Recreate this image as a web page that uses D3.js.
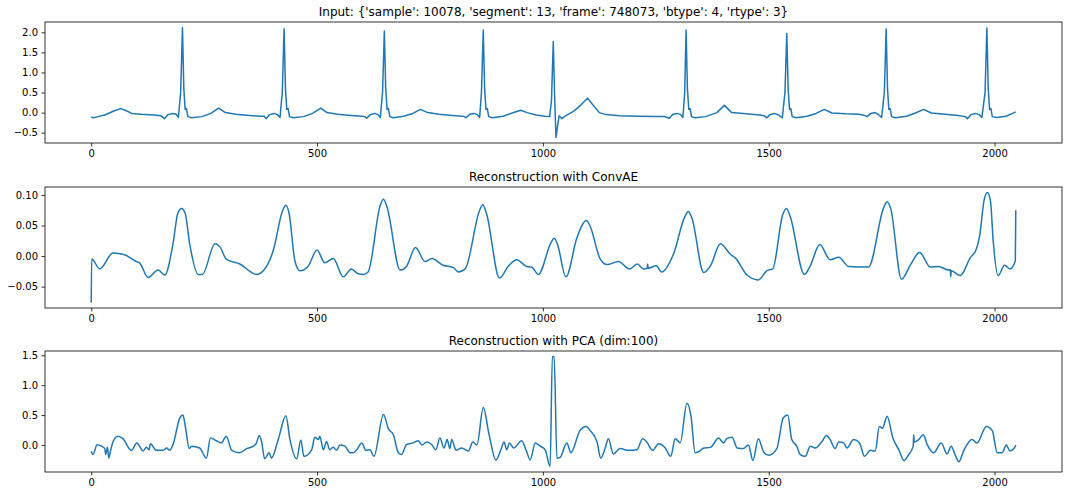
<!DOCTYPE html>
<html>
<head>
<meta charset="utf-8">
<script src="https://cdn.jsdelivr.net/npm/d3@7"></script>
<style>
    body { margin: 0; background: #fff; }
    svg { display: block; font-family: "DejaVu Sans", sans-serif; }
</style>
</head>
<body>
<div id="chart"></div>
<script>
//Colores fijos
const COLOR_LINE = '#1f77b4';

//Titulos y ticks
const titulos = [
    "Input: {'sample': 10078, 'segment': 13, 'frame': 748073, 'btype': 4, 'rtype': 3}",
    "Reconstruction with ConvAE",
    "Reconstruction with PCA (dim:100)"
];
const xTicks = [0, 500, 1000, 1500, 2000];
const yTicksInput = [-0.5, 0, 0.5, 1, 1.5, 2];
const yTicksConv = [-0.05, 0, 0.05, 0.1];
const yTicksPca = [0, 0.5, 1, 1.5];
const nMuestras = 2048;

//Senal de entrada [muestra, valor]
const serieInput = [
    [0,-0.11],[5,-0.13],[15,-0.1],[30,-0.06],[50,0.04],[65,0.1],[75,0.06],[90,-0.02],[110,-0.04],[140,-0.06],[155,-0.08],
    [162,-0.15],[170,-0.05],[180,-0.02],[188,-0.04],[193,-0.12],[198,0.5],[202,2.12],[205,0.6],[208,0.08],[211,0.1],[214,-0.1],
    [222,-0.13],[245,-0.1],[265,-0.02],[282,0.11],[297,0.0],[320,-0.04],[350,-0.07],[375,-0.09],
    [383,-0.09],[387,-0.15],[395,-0.05],[405,-0.02],[412,-0.05],[418,-0.12],[423,0.5],[427,2.09],[430,0.6],[433,0.08],[436,0.1],
    [439,-0.1],[447,-0.13],[470,-0.1],[490,-0.02],[508,0.11],[522,0.0],[545,-0.04],[575,-0.07],[600,-0.09],
    [606,-0.1],[610,-0.14],[618,-0.05],[628,-0.02],[635,-0.05],[640,-0.12],[645,0.5],[649,2.03],[652,0.6],[655,0.08],[658,0.1],
    [661,-0.1],[669,-0.13],[692,-0.09],[712,-0.02],[729,0.08],[745,0.0],[770,-0.04],[800,-0.07],[822,-0.09],
    [826,-0.1],[830,-0.13],[838,-0.04],[848,-0.02],[855,-0.05],[860,-0.12],[864,0.5],[868,2.06],[871,0.6],[874,0.08],[877,0.1],
    [880,-0.1],[888,-0.13],[912,-0.09],[932,-0.01],[951,0.06],[965,0.0],[985,-0.06],[1005,-0.09],[1015,-0.1],
    [1019,0.3],[1023,1.77],[1026,0.4],[1029,-0.62],[1033,-0.3],[1036,-0.08],[1042,-0.15],[1050,-0.08],[1060,-0.02],[1070,0.05],
    [1085,0.2],[1099,0.36],[1110,0.2],[1125,0.0],[1140,-0.05],[1170,-0.08],[1210,-0.09],[1250,-0.1],[1270,-0.1],
    [1275,-0.12],[1280,-0.14],[1288,-0.04],[1298,-0.02],[1305,-0.05],[1310,-0.12],[1314,0.5],[1317,2.06],[1320,0.6],[1323,0.08],
    [1326,0.1],[1329,-0.1],[1337,-0.13],[1360,-0.1],[1385,0.0],[1402,0.18],[1418,0.0],[1450,-0.03],[1480,-0.06],[1490,-0.08],
    [1496,-0.13],[1503,-0.05],[1512,-0.02],[1522,-0.06],[1530,-0.13],[1536,0.5],[1540,1.97],[1543,0.6],[1546,0.08],[1549,0.1],
    [1552,-0.1],[1560,-0.13],[1585,-0.09],[1605,-0.02],[1623,0.08],[1640,-0.01],[1670,-0.03],[1700,-0.04],[1712,-0.07],
    [1718,-0.1],[1726,-0.02],[1735,0.0],[1742,-0.04],[1750,-0.12],[1756,0.5],[1760,2.08],[1763,0.6],[1766,0.08],[1769,0.1],
    [1772,-0.1],[1780,-0.13],[1805,-0.09],[1825,-0.01],[1843,0.08],[1860,-0.01],[1890,-0.04],[1920,-0.07],[1935,-0.1],
    [1940,-0.15],[1948,-0.05],[1958,-0.02],[1966,-0.05],[1972,-0.12],[1979,0.5],[1983,2.11],[1986,0.6],[1989,0.08],[1992,0.1],
    [1995,-0.1],[2005,-0.12],[2025,-0.09],[2040,-0.02],[2047,0.02]
];

//Reconstruccion ConvAE
const serieConv = [
    [0,-0.076],[1,-0.005],[19,-0.021],[48,0.005],[74,0.002],[100,-0.009],[107,-0.011],[126,-0.035],[148,-0.023],[163,-0.031],
    [181,0.02],[192,0.071],[200,0.078],[208,0.07],[218,0.02],[237,-0.03],[246,-0.03],[274,0.02],[285,0.015],[299,-0.005],
    [329,-0.013],[366,-0.03],[381,-0.024],[403,0.009],[424,0.075],[431,0.083],[438,0.07],[451,-0.008],[462,-0.024],
    [480,-0.017],[500,0.01],[517,-0.011],[536,-0.004],[558,-0.034],[576,-0.021],[591,-0.029],[602,-0.03],[613,-0.026],
    [640,0.083],[647,0.093],[655,0.08],[684,-0.023],[698,-0.017],[718,0.014],[739,-0.009],[754,-0.004],[779,-0.015],
    [802,-0.019],[813,-0.026],[828,-0.021],[860,0.075],[867,0.084],[875,0.07],[904,-0.036],[924,-0.016],[942,-0.006],
    [964,-0.017],[975,-0.018],[990,-0.03],[1018,0.022],[1025,0.029],[1032,0.02],[1051,-0.034],[1075,0.029],[1088,0.052],
    [1096,0.058],[1104,0.05],[1127,-0.005],[1142,-0.014],[1167,-0.009],[1192,-0.021],[1209,-0.013],[1223,-0.021],
    [1231,-0.02],[1232,-0.013],[1233,-0.02],[1251,-0.016],[1263,-0.026],[1289,0.003],[1314,0.064],[1322,0.073],[1330,0.062],
    [1356,-0.027],[1371,-0.016],[1393,0.02],[1415,0.003],[1426,-0.003],[1452,-0.031],[1477,-0.039],[1496,-0.024],
    [1509,-0.021],[1531,0.068],[1539,0.078],[1547,0.066],[1579,-0.03],[1592,-0.016],[1613,0.019],[1636,-0.006],
    [1655,-0.002],[1677,-0.017],[1721,-0.018],[1754,0.078],[1762,0.089],[1770,0.078],[1794,-0.038],[1814,-0.014],
    [1834,0.006],[1858,-0.018],[1876,-0.017],[1898,-0.023],[1902,-0.022],[1903,-0.034],[1904,-0.024],[1924,-0.032],
    [1946,-0.003],[1960,0.012],[1967,0.033],[1977,0.092],[1984,0.104],[1991,0.09],[1997,0.025],[2008,-0.032],[2022,-0.015],
    [2034,-0.021],[2046,-0.008],[2047,0.075]
];

//Reconstruccion PCA
const seriePca = [
    [0,-0.106],[4,-0.16],[13,0.005],[23,-0.02],[30,-0.06],[32,-0.16],[36,-0.04],[39,-0.22],[43,-0.09],[48,0.05],[59,0.145],
    [70,0.105],[89,-0.09],[101,0.035],[115,-0.1],[122,-0.04],[128,-0.08],[131,0.02],[144,-0.09],[159,-0.09],[167,-0.05],
    [174,-0.09],[181,0.005],[196,0.45],[203,0.5],[209,0.28],[217,-0.06],[222,-0.02],[240,-0.05],[255,-0.22],[264,0.115],
    [277,0.07],[288,0.035],[299,0.145],[311,-0.09],[329,-0.13],[344,-0.06],[359,-0.02],[366,0.035],[372,0.16],[377,0.06],
    [384,-0.23],[394,-0.13],[399,-0.22],[414,0.09],[431,0.49],[440,0.09],[455,-0.23],[464,0.085],[471,-0.19],[488,-0.08],
    [495,0.13],[503,0.09],[506,0.145],[514,-0.08],[521,0.06],[528,-0.08],[536,-0.04],[543,-0.09],[551,0.0],[562,-0.02],
    [573,-0.13],[580,-0.13],[588,-0.08],[599,0.035],[608,-0.09],[617,-0.08],[626,-0.19],[647,0.51],[658,0.27],[669,0.17],
    [680,-0.13],[687,-0.16],[698,0.005],[713,0.035],[724,0.07],[732,0.0],[743,0.05],[754,0.005],[763,-0.08],[772,0.115],
    [781,-0.05],[788,0.09],[794,-0.06],[798,0.09],[808,-0.09],[820,-0.05],[835,-0.1],[845,0.05],[854,0.0],[868,0.625],
    [881,0.17],[896,-0.25],[907,-0.08],[914,0.05],[920,-0.08],[926,0.035],[935,-0.05],[953,0.07],[963,-0.09],[972,-0.25],
    [983,0.035],[994,-0.02],[1005,-0.08],[1016,-0.36],[1021,1.48],[1025,1.48],[1031,-0.22],[1038,-0.21],[1053,0.035],
    [1062,-0.13],[1082,0.24],[1096,0.31],[1105,0.24],[1120,0.05],[1128,-0.22],[1138,-0.05],[1145,0.105],[1156,-0.15],
    [1171,-0.06],[1189,-0.09],[1208,-0.08],[1221,0.105],[1230,0.05],[1243,-0.09],[1256,0.02],[1271,-0.05],[1283,-0.19],
    [1293,0.105],[1304,0.035],[1319,0.7],[1328,0.48],[1337,-0.13],[1348,-0.1],[1356,-0.05],[1371,-0.04],[1389,0.115],
    [1400,0.035],[1407,0.105],[1419,0.13],[1430,-0.05],[1444,-0.06],[1455,0.0],[1465,-0.26],[1477,0.105],[1489,-0.12],
    [1500,-0.17],[1518,-0.06],[1532,0.45],[1542,0.5],[1551,0.09],[1562,-0.02],[1570,-0.16],[1581,-0.19],[1592,-0.02],
    [1603,-0.05],[1618,0.06],[1628,0.16],[1636,0.09],[1647,-0.06],[1655,0.05],[1666,0.035],[1673,-0.05],[1688,0.09],
    [1701,0.035],[1712,-0.19],[1725,-0.09],[1736,-0.1],[1745,0.31],[1752,0.28],[1762,0.48],[1775,0.115],[1788,-0.08],
    [1800,-0.26],[1810,-0.16],[1820,-0.02],[1821,0.17],[1822,0.05],[1832,0.09],[1842,0.17],[1851,0.005],[1865,-0.13],
    [1882,0.035],[1895,-0.15],[1904,-0.02],[1913,-0.17],[1921,-0.28],[1932,-0.09],[1939,0.005],[1950,0.09],[1961,0.035],
    [1982,0.31],[1995,0.24],[2006,-0.13],[2017,-0.13],[2026,0.0],[2034,-0.1],[2043,-0.06],[2047,0.0]
];

//Paneles
const paneles = [
    { titulo: titulos[0], datos: serieInput, yTicks: yTicksInput, fmt: '.1f', curva: d3.curveLinear },
    { titulo: titulos[1], datos: serieConv, yTicks: yTicksConv, fmt: '.2f', curva: d3.curveMonotoneX },
    { titulo: titulos[2], datos: seriePca, yTicks: yTicksPca, fmt: '.1f', curva: d3.curveMonotoneX }
];

let widthTotal = 1072, heightTotal = 496;
let margin = { left: 45, right: 10 },
    width = widthTotal - margin.left - margin.right,
    panelTops = [22, 187, 351],
    panelHeight = 121;

let svg = d3.select('#chart')
    .append('svg')
    .attr('width', widthTotal)
    .attr('height', heightTotal);

//Eje X (comun), con el 5% de margen de matplotlib
let xPad = (nMuestras - 1) * 0.05;
let x = d3.scaleLinear()
    .domain([-xPad, nMuestras - 1 + xPad])
    .range([0, width]);

paneles.forEach(function(p, i) {
    let g = svg.append('g')
        .attr('transform', 'translate(' + margin.left + ',' + panelTops[i] + ')');

    //Eje Y
    let ext = d3.extent(p.datos, function(d) { return d[1]; });
    let yPad = (ext[1] - ext[0]) * 0.05;
    let y = d3.scaleLinear()
        .domain([ext[0] - yPad, ext[1] + yPad])
        .range([panelHeight, 0]);

    let xAxis = g.append('g')
        .attr('transform', 'translate(0,' + panelHeight + ')')
        .call(d3.axisBottom(x).tickValues(xTicks).tickSize(3.5).tickPadding(3.5).tickFormat(d3.format('d')));

    let yAxis = g.append('g')
        .call(d3.axisLeft(y).tickValues(p.yTicks).tickSize(3.5).tickPadding(3.5).tickFormat(d3.format(p.fmt)));

    [xAxis, yAxis].forEach(function(ax) {
        ax.select('.domain').remove();
        ax.selectAll('.tick line').attr('stroke', '#000').attr('stroke-width', 0.8);
        ax.selectAll('.tick text')
            .attr('fill', '#000')
            .style('font-size', '10px')
            .style('font-family', '"DejaVu Sans", sans-serif');
    });

    //Linea
    let line = d3.line()
        .curve(p.curva)
        .x(function(d) { return x(d[0]); })
        .y(function(d) { return y(d[1]); });

    g.append('path')
        .datum(p.datos)
        .attr('fill', 'none')
        .attr('stroke', COLOR_LINE)
        .attr('stroke-width', 1.5)
        .attr('stroke-linejoin', 'round')
        .attr('d', line);

    //Marco
    g.append('rect')
        .attr('x', 0)
        .attr('y', 0)
        .attr('width', width)
        .attr('height', panelHeight)
        .attr('fill', 'none')
        .attr('stroke', '#000')
        .attr('stroke-width', 0.8);

    //Titulo
    g.append('text')
        .attr('x', width / 2)
        .attr('y', -6)
        .attr('text-anchor', 'middle')
        .style('font-size', '12px')
        .attr('fill', '#000')
        .text(p.titulo);
});
</script>
</body>
</html>
